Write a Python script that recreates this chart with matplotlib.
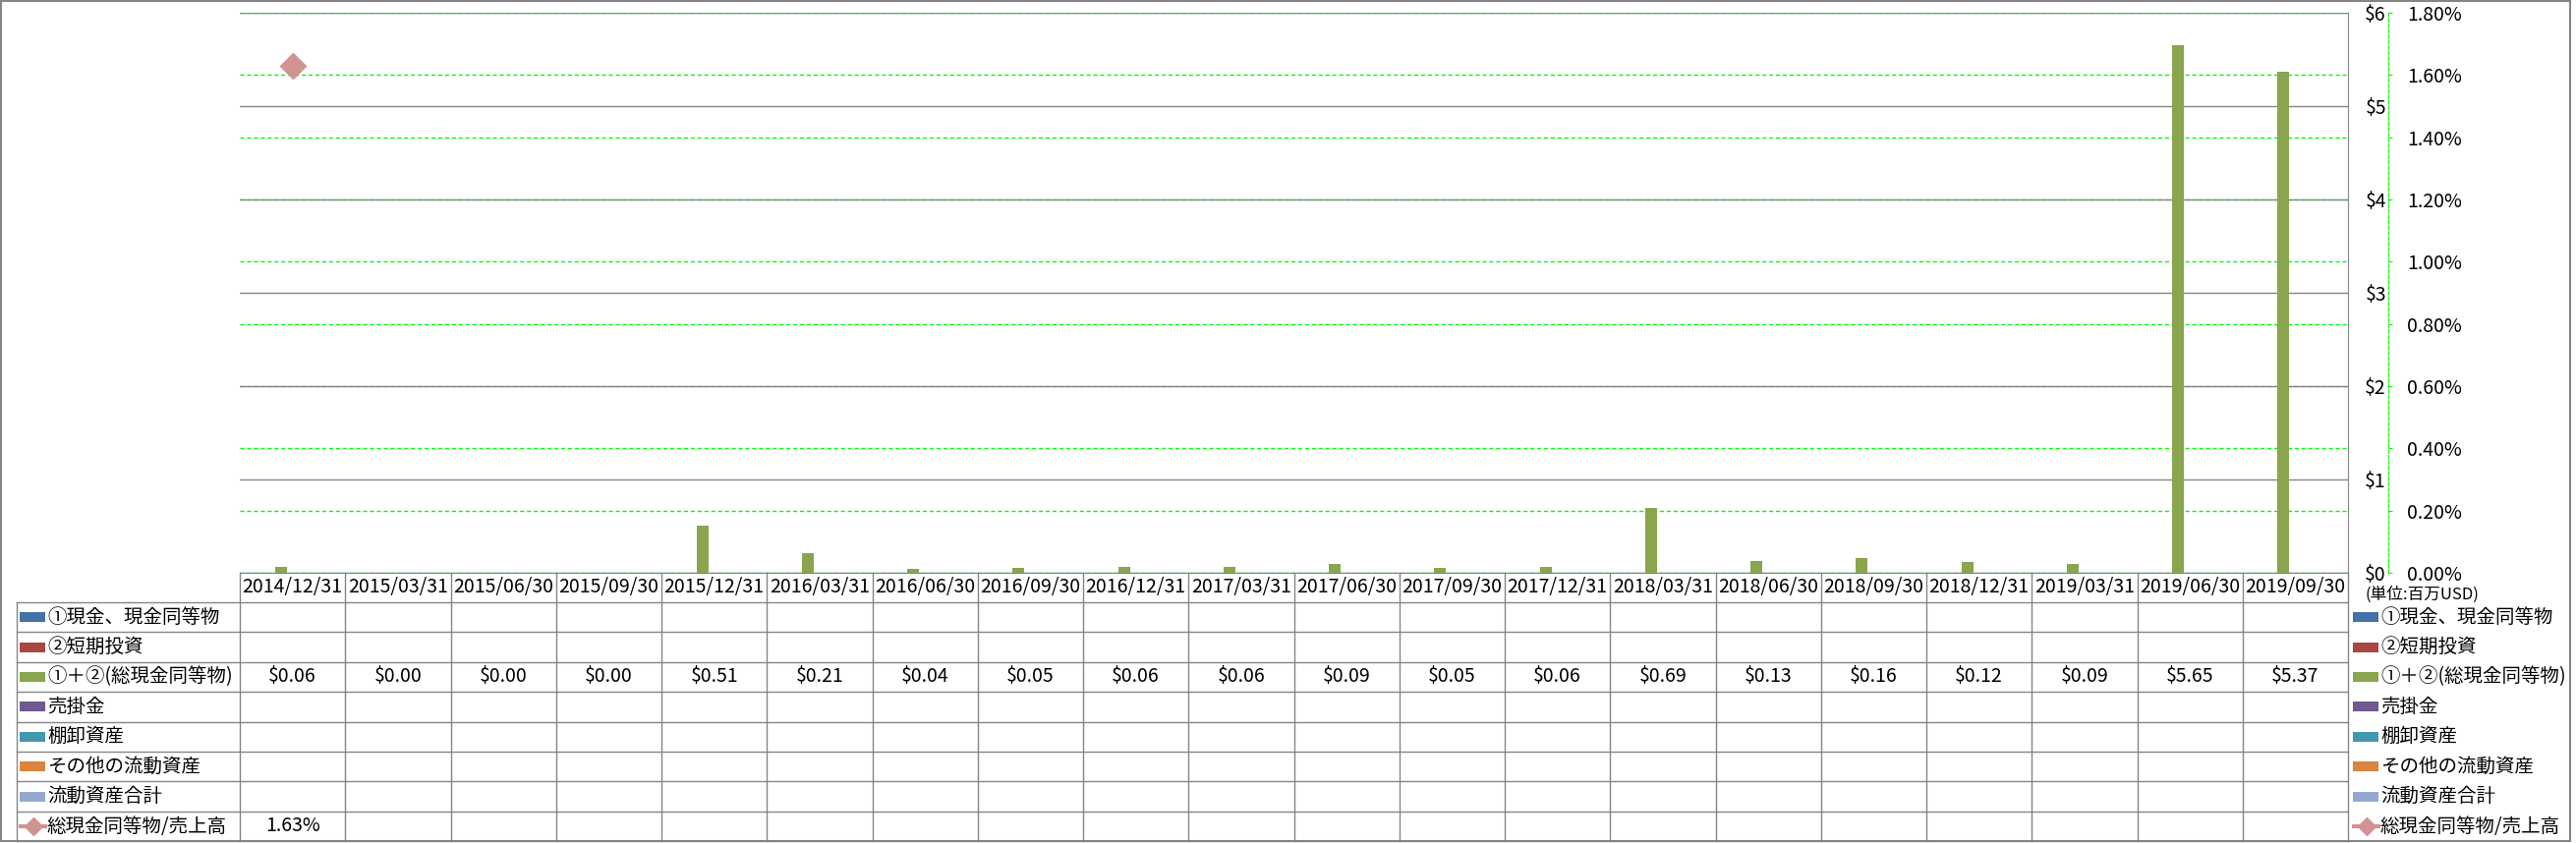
import numpy as np
import matplotlib
matplotlib.use("Agg")
import matplotlib.pyplot as plt
import matplotlib.transforms as mtransforms
from matplotlib.patches import Rectangle

plt.rcParams['font.family'] = ['Noto Sans CJK JP', 'DejaVu Sans']

# ---- data ----
dates = ["2014/12/31", "2015/03/31", "2015/06/30", "2015/09/30", "2015/12/31",
         "2016/03/31", "2016/06/30", "2016/09/30", "2016/12/31", "2017/03/31",
         "2017/06/30", "2017/09/30", "2017/12/31", "2018/03/31", "2018/06/30",
         "2018/09/30", "2018/12/31", "2019/03/31", "2019/06/30", "2019/09/30"]
series_names = ["①現金、現金同等物", "②短期投資", "①＋②(総現金同等物)", "売掛金",
                "棚卸資産", "その他の流動資産", "流動資産合計"]
series_colors = ["#4572A7", "#AA4643", "#89A54E", "#71588F", "#4198AF", "#DB843D", "#93A9CF"]
total_cash = [0.06, 0.00, 0.00, 0.00, 0.51, 0.21, 0.04, 0.05, 0.06, 0.06,
              0.09, 0.05, 0.06, 0.69, 0.13, 0.16, 0.12, 0.09, 5.65, 5.37]
ratio_name = "総現金同等物/売上高"
ratio_color = "#D19392"
ratio = [0.0163] + [np.nan] * 19
left_ticks = [0, 1, 2, 3, 4, 5, 6]
right_ticks = [0.0, 0.002, 0.004, 0.006, 0.008, 0.010, 0.012, 0.014, 0.016, 0.018]
unit_label = "(単位:百万USD)"

W, H = 2621, 858
GRAY = "#858585"
GREEN = "#00FF00"
FS = 14

fig = plt.figure(figsize=(W / 100, H / 100), dpi=100)

# overlay for table + frame (pixel coords, y downward)
tab = fig.add_axes([0, 0, 1, 1], zorder=0)
tab.set_xlim(0, W); tab.set_ylim(H, 0); tab.axis("off")

left_px, right_px, top_px, bot_px = 244, 2389, 13, 583
ax = fig.add_axes([left_px / W, 1 - bot_px / H, (right_px - left_px) / W, (bot_px - top_px) / H], zorder=2)
ax2 = ax.twinx()
ax2.set_zorder(1)
ax.patch.set_visible(False)

x = np.arange(len(dates))
n_bar = len(series_names)
w = 0.112
idx = 2
ax.bar(x + (idx - (n_bar - 1) / 2) * w, total_cash, width=w, color=series_colors[idx], zorder=3)
ax.set_xlim(-0.5, len(dates) - 0.5)
ax.set_ylim(0, 6)
ax.set_yticks(left_ticks)
ax.set_yticklabels([f"${v}" for v in left_ticks])
ax.yaxis.tick_right()
ax.tick_params(axis="y", length=0, pad=28, labelsize=FS)
for t in ax.get_yticklabels():
    t.set_horizontalalignment("right")
ax.set_xticks([])
ax.grid(axis="y", color=GRAY, lw=1.0)
ax.set_axisbelow(True)
for s in ["top", "left"]:
    ax.spines[s].set_visible(False)
ax.spines["right"].set_color(GRAY)
ax.spines["bottom"].set_color(GRAY)

ax2.plot(x, ratio, marker="D", ms=13, color=ratio_color, ls="none", clip_on=False)
ax2.set_ylim(0, 0.018)
ax2.set_yticks(right_ticks)
ax2.set_yticklabels([f"{v * 100:.2f}%" for v in right_ticks])
ax2.grid(axis="y", color=GREEN, lw=1.0, ls=(0, (3, 2)))
ax2.spines["right"].set_position(("outward", 29.5))
ax2.spines["right"].set_color(GREEN)
ax2.spines["right"].set_linestyle((0, (3, 2)))
for s in ["top", "left", "bottom"]:
    ax2.spines[s].set_visible(False)
ax2.tick_params(axis="y", colors=GREEN, labelcolor="black", length=3, pad=11, labelsize=FS)

# ---- data table ----
bt = mtransforms.blended_transform_factory(ax.transData, tab.transData)
row_top = 613
row_h = 30.4
n_rows = len(series_names) + 1
tab_bottom = row_top + n_rows * row_h

for i in range(len(dates) + 1):
    tab.plot([i - 0.5, i - 0.5], [bot_px, tab_bottom], color=GRAY, lw=1.0, transform=bt)
tab.plot([17, 17], [row_top, tab_bottom], color=GRAY, lw=1.0)
for r in range(n_rows + 1):
    yy = row_top + r * row_h
    tab.plot([17, right_px], [yy, yy], color=GRAY, lw=1.0)

for i, d in enumerate(dates):
    tab.text(i, (bot_px + row_top) / 2, d, transform=bt, ha="center", va="center", fontsize=FS)

def draw_key(x0, yc, r):
    if r < len(series_names):
        tab.add_patch(Rectangle((x0, yc - 5), 26, 10, color=series_colors[r], lw=0))
    else:
        tab.plot([x0 - 1, x0 + 28], [yc, yc], color=ratio_color, lw=3, solid_capstyle="butt")
        tab.plot([x0 + 13.5], [yc], marker="D", ms=9, color=ratio_color)

labels = series_names + [ratio_name]
for r, name in enumerate(labels):
    yc = row_top + (r + 0.5) * row_h
    draw_key(20, yc, r)
    tab.text(48, yc, name, ha="left", va="center", fontsize=FS)
    draw_key(2394, yc, r)
    tab.text(2422, yc, name, ha="left", va="center", fontsize=FS)

yc = row_top + (idx + 0.5) * row_h
for i, v in enumerate(total_cash):
    tab.text(i, yc, f"${v:.2f}", transform=bt, ha="center", va="center", fontsize=FS)
yc = row_top + (n_rows - 0.5) * row_h
for i, v in enumerate(ratio):
    if not np.isnan(v):
        tab.text(i, yc, f"{v * 100:.2f}%", transform=bt, ha="center", va="center", fontsize=FS)

tab.text(2407, 605, unit_label, ha="left", va="center", fontsize=12)

tab.add_patch(Rectangle((1, 1), 2614, 855, fill=False, edgecolor=GRAY, lw=1.5))

fig.savefig("out.png", dpi=100)
